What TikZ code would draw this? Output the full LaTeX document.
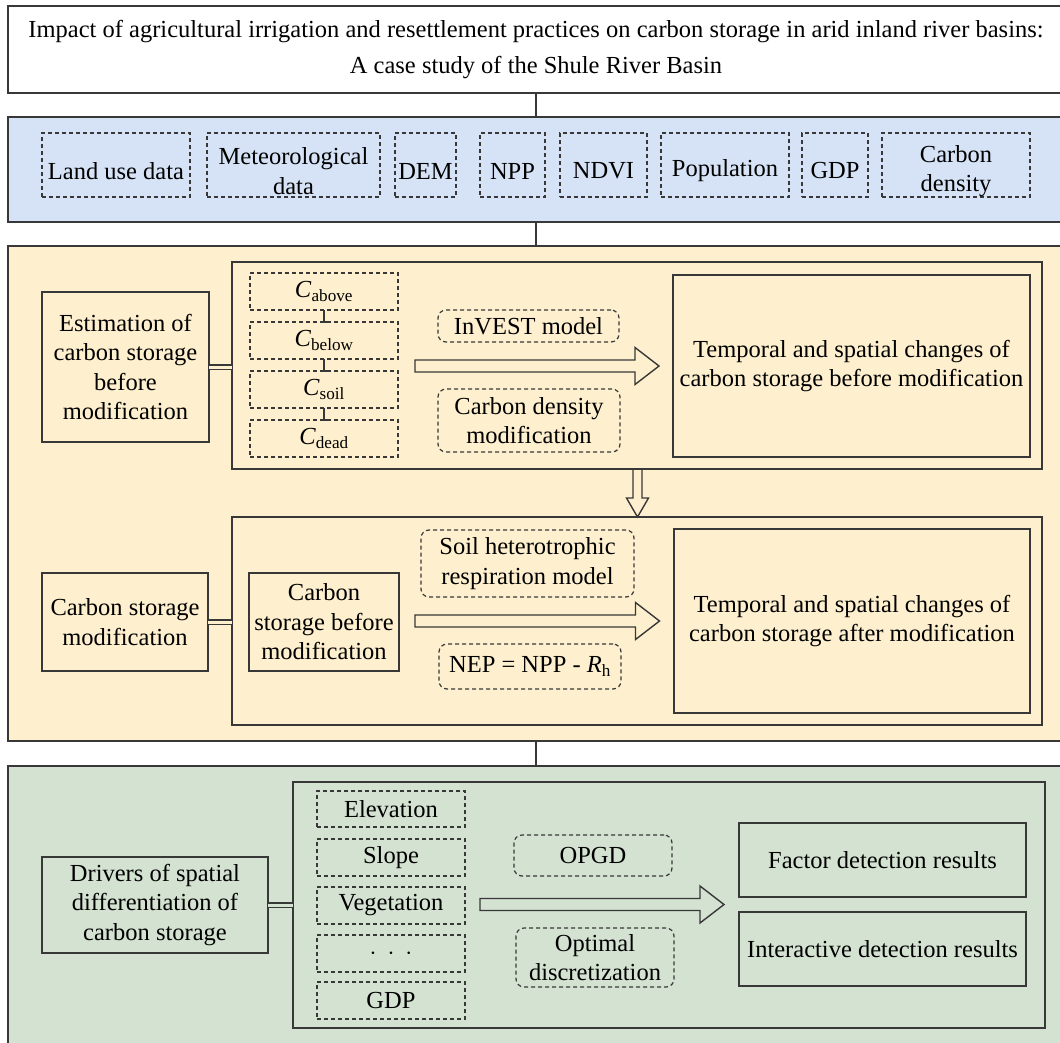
\documentclass[tikz,border=0pt]{standalone}
\usepackage{fontspec}
\setmainfont{Liberation Serif}
\usetikzlibrary{calc,positioning}

\definecolor{panelblue}{HTML}{D6E3F6}
\definecolor{panelorange}{HTML}{FEF0CE}
\definecolor{panelgreen}{HTML}{D4E2D1}
\definecolor{edgegray}{HTML}{383838}

\tikzset{
  panel/.style={draw=edgegray, line width=1.5pt, anchor=north west, inner sep=0pt, outer sep=0pt},
  box/.style={draw=edgegray, line width=1.5pt, anchor=north west, align=center, inner sep=0pt, outer sep=0pt,
    font=\fontsize{24.5}{29.5}\selectfont},
  dbox/.style={box, line width=1.2pt, dash pattern=on 4pt off 3pt},
  rbox/.style={dbox, rounded corners=8pt},
  databox/.style={dbox, minimum height=64pt},
  link/.style={draw=edgegray, line width=1.3pt},
  twin/.style={draw=edgegray, line width=1.2pt, double distance=3pt},
  fatarr/.style={draw=edgegray, line width=1.4pt, line join=miter},
}

% text set a little lower than the box centre
\newcommand{\low}[1]{\raisebox{-6pt}[\height][\depth]{#1}}

% horizontal hollow arrow from #1 to the tip #2
\newcommand{\fatarrow}[2]{%
  \draw[fatarr] let \p1=(#1), \p2=(#2) in
    (\x1,\y1+6pt) -- (\x2-24pt,\y1+6pt) -- (\x2-24pt,\y1+18.5pt) -- (\x2,\y1)
    -- (\x2-24pt,\y1-18.5pt) -- (\x2-24pt,\y1-6pt) -- (\x1,\y1-6pt) -- cycle;}

\begin{document}
\begin{tikzpicture}[x=1pt,y=-1pt]
\useasboundingbox (0,0) rectangle (1060,1042);

% title
\node[box, minimum width=1056pt, minimum height=87pt, font=\fontsize{24.5}{36}\selectfont]
  (title) at (8,6) {Impact of agricultural irrigation and resettlement practices on carbon storage in arid inland river basins:\\A case study of the Shule River Basin};

% data panel
\node[panel, fill=panelblue, minimum width=1056pt, minimum height=105pt] (datapanel) at (8,117) {};
\node[databox, minimum width=148pt] (landuse) at (42,133) {\low{Land use data}};
\node[databox, minimum width=173pt] (meteo) at (207,133) {\low{Meteorological}\\\low{data}};
\node[databox, minimum width=61pt] (dem) at (395,133) {\low{DEM}};
\node[databox, minimum width=65pt] (npp) at (480,133) {\low{NPP}};
\node[databox, minimum width=87pt] (ndvi) at (560,133) {\low{NDVI}};
\node[databox, minimum width=128pt] (popu) at (661,133) {\low{Population}};
\node[databox, minimum width=66pt] (gdp) at (802,133) {\low{GDP}};
\node[databox, minimum width=148pt] (cdens) at (882,133) {\low{Carbon}\\\low{density}};

% estimation panel
\node[panel, fill=panelorange, minimum width=1056pt, minimum height=495pt] (estpanel) at (8,246) {};
\node[box, minimum width=810pt, minimum height=207pt] (upper) at (232,262) {};
\node[box, minimum width=167pt, minimum height=150pt] (est) at (42,292) {Estimation of\\carbon storage\\before\\modification};
\node[dbox, minimum width=148pt, minimum height=37pt] (cabove) at (250,273) {\textit{C}\textsubscript{above}};
\node[dbox, minimum width=148pt, minimum height=37pt] (cbelow) at (250,322) {\textit{C}\textsubscript{below}};
\node[dbox, minimum width=148pt, minimum height=37pt] (csoil) at (250,371) {\textit{C}\textsubscript{soil}};
\node[dbox, minimum width=148pt, minimum height=37pt] (cdead) at (250,420) {\textit{C}\textsubscript{dead}};
\node[rbox, minimum width=181pt, minimum height=32pt] (invest) at (438,310) {InVEST model};
\node[rbox, minimum width=182pt, minimum height=63pt] (cdmod) at (438,389) {Carbon density\\modification};
\node[box, minimum width=357pt, minimum height=182pt] (before) at (673,275) {Temporal and spatial changes of\\carbon storage before modification};

\node[box, minimum width=810pt, minimum height=208pt] (lower) at (232,517) {};
\node[box, minimum width=166pt, minimum height=98pt] (csmod) at (42,573) {Carbon storage\\modification};
\node[box, minimum width=150pt, minimum height=98pt] (csbef) at (249,573) {Carbon\\storage before\\modification};
\node[rbox, minimum width=213pt, minimum height=67pt] (soilrh) at (421,530) {Soil heterotrophic\\respiration model};
\node[rbox, minimum width=182pt, minimum height=45pt] (nep) at (439,644) {NEP = NPP - \textit{R}\textsubscript{h}};
\node[box, minimum width=356pt, minimum height=184pt] (after) at (674,529) {Temporal and spatial changes of\\carbon storage after modification};

% drivers panel
\node[panel, fill=panelgreen, minimum width=1056pt, minimum height=280pt] (drvpanel) at (8,766) {};
\node[box, minimum width=752pt, minimum height=246pt] (factors) at (293,782) {};
\node[box, minimum width=226pt, minimum height=96pt] (drivers) at (42,857) {Drivers of spatial\\differentiation of\\carbon storage};
\node[dbox, minimum width=148pt, minimum height=36pt] (elev) at (317,791) {Elevation};
\node[dbox, minimum width=148pt, minimum height=37pt] (slope) at (317,839) {Slope};
\node[dbox, minimum width=148pt, minimum height=37pt] (veg) at (317,887) {Vegetation};
\node[dbox, minimum width=148pt, minimum height=37pt] (more) at (317,935) {$\cdot$\hspace{0.45em}$\cdot$\hspace{0.45em}$\cdot$};
\node[dbox, minimum width=148pt, minimum height=37pt] (gdpf) at (317,982) {GDP};
\node[rbox, minimum width=158pt, minimum height=41pt] (opgd) at (514,835) {OPGD};
\node[rbox, minimum width=158pt, minimum height=59pt] (optdisc) at (516,928) {Optimal\\discretization};
\node[box, minimum width=287pt, minimum height=74pt] (factdet) at (739,823) {Factor detection results};
\node[box, minimum width=287pt, minimum height=74pt] (interdet) at (739,912) {Interactive detection results};

% links between panels
\draw[link] (title.south) -- (datapanel.north);
\draw[link] (datapanel.south) -- (estpanel.north);
\draw[link] (estpanel.south) -- (drvpanel.north);
\draw[link] (cabove.south) -- (cbelow.north) -- ++(4,0);
\draw[link] (cbelow.south) -- (csoil.north) -- ++(4,0);
\draw[link] (csoil.south) -- (cdead.north) -- ++(4,0);

\draw[twin, double=panelorange] (est.east) -- (est.east -| upper.west);
\draw[twin, double=panelorange] (csmod.east) -- (csmod.east -| lower.west);
\draw[twin, double=panelgreen] (drivers.east) -- (drivers.east -| factors.west);

% hollow arrows
\coordinate (a1s) at (415,366);
\coordinate (a1e) at (659,366);
\coordinate (a2s) at (415,621);
\coordinate (a2e) at (659.5,621);
\coordinate (a3s) at (480,904.5);
\coordinate (a3e) at (724,904.5);
\fatarrow{a1s}{a1e}
\fatarrow{a2s}{a2e}
\fatarrow{a3s}{a3e}
\coordinate (d1s) at (upper.south -| 637.5,0);
\coordinate (d1e) at (lower.north -| 637.5,0);
\draw[fatarr] let \p1=(d1s), \p2=(d1e) in
  (\x1-4.5pt,\y1) -- (\x1-4.5pt,\y2+19pt) -- (\x1-11pt,\y2+19pt) -- (\x2,\y2)
  -- (\x1+11pt,\y2+19pt) -- (\x1+4.5pt,\y2+19pt) -- (\x1+4.5pt,\y1);
\end{tikzpicture}
\end{document}
